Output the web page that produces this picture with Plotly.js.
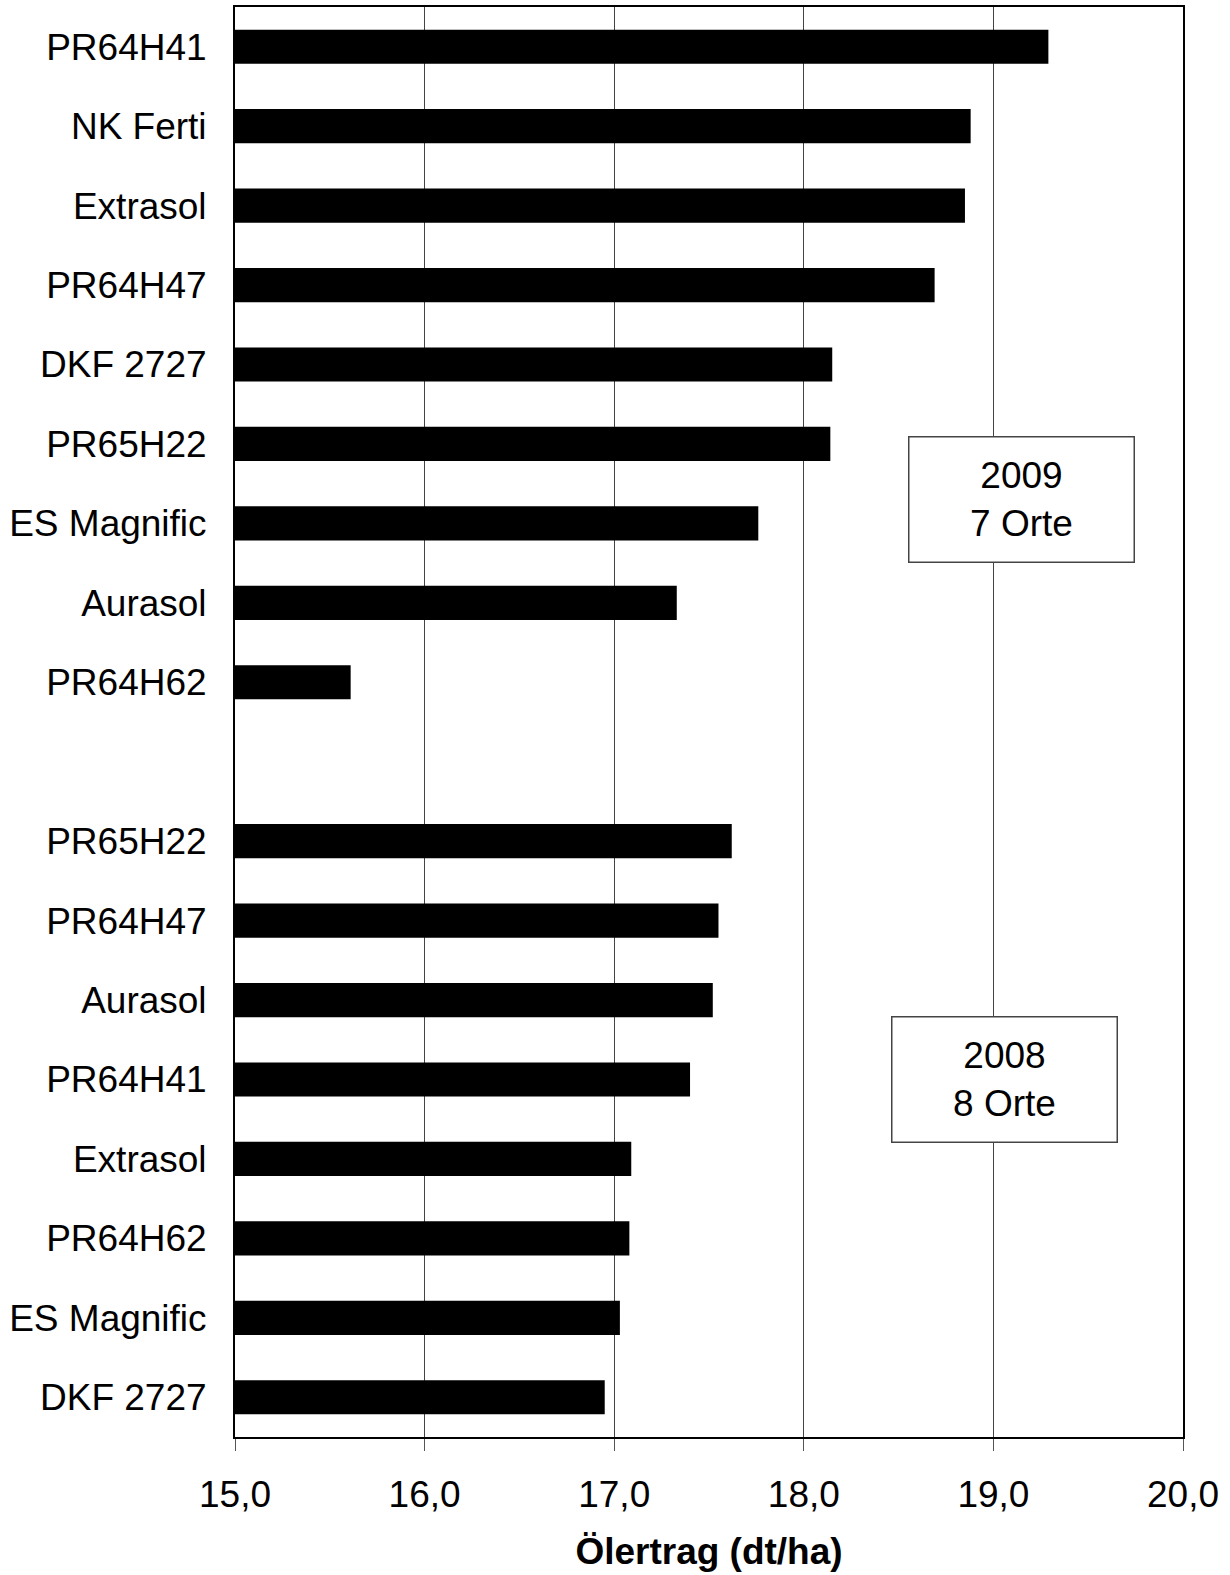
<!DOCTYPE html>
<html>
<head>
<meta charset="utf-8">
<script src="https://cdn.plot.ly/plotly-3.0.1.min.js"></script>
<style>html,body{margin:0;padding:0;background:#fff}#chart{width:1230px;height:1575px}</style>
</head>
<body>
<div id="chart"></div>
<script>
var labels = ["PR64H41","NK Ferti","Extrasol","PR64H47","DKF 2727","PR65H22","ES Magnific","Aurasol","PR64H62","",
              "PR65H22","PR64H47","Aurasol","PR64H41","Extrasol","PR64H62","ES Magnific","DKF 2727"];
var values = [19.29,18.88,18.85,18.69,18.15,18.14,17.76,17.33,15.61,null,
              17.62,17.55,17.52,17.40,17.09,17.08,17.03,16.95];
var xTicks = [15,16,17,18,19,20];
var xTickText = ["15,0","16,0","17,0","18,0","19,0","20,0"];
var positions = labels.map(function(_, i){ return i; });

var font = "Arial, 'Liberation Sans', sans-serif";

var trace = {
  type: "bar",
  orientation: "h",
  y: positions,
  x: values,
  width: 0.43,
  marker: {color: "#000000", line: {width: 0}},
  hoverinfo: "none"
};

var layout = {
  width: 1230, height: 1575,
  margin: {l: 235, r: 47, t: 7, b: 138, pad: 0},
  paper_bgcolor: "#ffffff",
  plot_bgcolor: "#ffffff",
  showlegend: false,
  font: {family: font, color: "#000", size: 37},
  xaxis: {
    range: [15, 20],
    tickvals: xTicks,
    ticktext: xTickText,
    ticks: "outside",
    ticklen: 12,
    tickwidth: 1,
    tickcolor: "#555",
    showgrid: true,
    gridcolor: "#444",
    gridwidth: 1,
    zeroline: false,
    showline: true,
    linecolor: "#000",
    linewidth: 2,
    mirror: true,
    tickfont: {size: 37, family: font, color: "#000"},
    ticklabelstandoff: 12,
    title: {text: "<b>Ölertrag (dt/ha)</b>", font: {size: 37, family: font, color: "#000"}, standoff: 24}
  },
  yaxis: {
    range: [17.5, -0.5],
    tickvals: positions,
    ticktext: labels,
    ticks: "",
    showgrid: false,
    zeroline: false,
    showline: true,
    linecolor: "#000",
    linewidth: 2,
    mirror: true,
    tickfont: {size: 37, family: font, color: "#000"},
    ticklabelstandoff: 19
  },
  annotations: [
    {xref: "x", yref: "y", x: 19.15, y: 5.7, text: "2009<br>7 Orte", showarrow: false,
     font: {size: 37, family: font, color: "#000"}, width: 224, height: 124, borderpad: 0,
     bordercolor: "#444", borderwidth: 1.5, bgcolor: "#fff", align: "center", valign: "middle"},
    {xref: "x", yref: "y", x: 19.06, y: 13.0, text: "2008<br>8 Orte", showarrow: false,
     font: {size: 37, family: font, color: "#000"}, width: 224, height: 124, borderpad: 0,
     bordercolor: "#444", borderwidth: 1.5, bgcolor: "#fff", align: "center", valign: "middle"}
  ]
};

Plotly.newPlot("chart", [trace], layout, {staticPlot: true, displayModeBar: false});
</script>
</body>
</html>
